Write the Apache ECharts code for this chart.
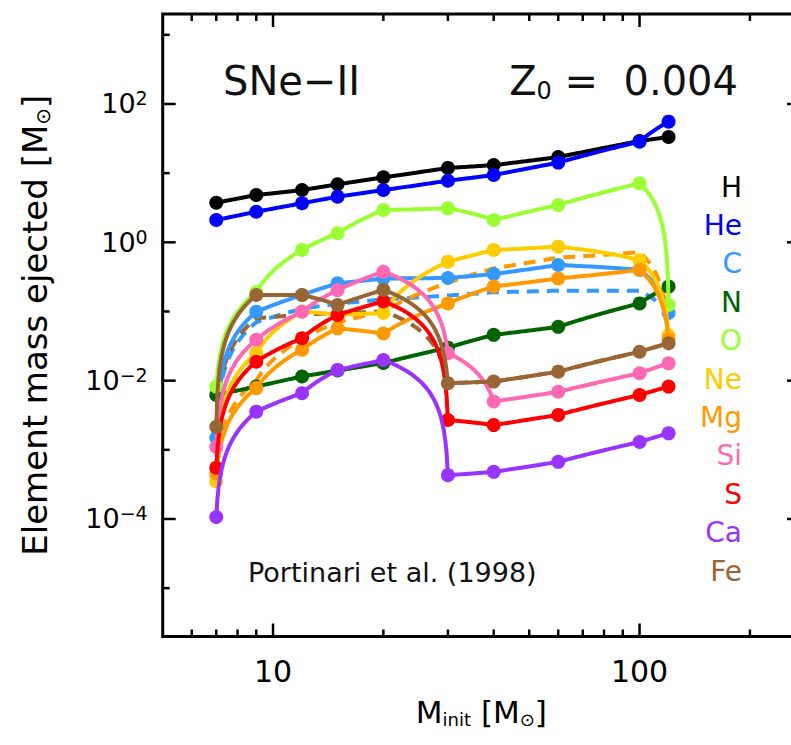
<!DOCTYPE html>
<html><head><meta charset="utf-8">
<script src="https://cdn.jsdelivr.net/npm/echarts@6/dist/echarts.min.js"></script>
<style>html,body{margin:0;padding:0;background:#fff}#c{width:791px;height:745px}</style>
</head><body><div id="c"></div>
<script>
// ---- data ----
const masses = [7, 9, 12, 15, 20, 30, 40, 60, 100, 120];
const yieldH  = [3.74, 4.83, 5.70, 6.90, 8.71, 11.9, 13.1, 17.1, 29.2, 33.3];
const yieldHe = [2.10, 2.77, 3.67, 4.57, 5.71, 7.78, 9.40, 14.2, 28.5, 55.5];
const yieldC  = [1.5e-3, 0.099, 0.173, 0.255, 0.30, 0.305, 0.348, 0.47, 0.40, 0.095];
const yieldN  = [6.2e-3, 8.2e-3, 0.0115, 0.014, 0.018, 0.030, 0.046, 0.060, 0.131, 0.229];
const yieldO  = [8.2e-3, 0.19, 0.775, 1.35, 2.93, 3.10, 2.10, 3.47, 7.13, 0.124];
const yieldNe = [3.5e-4, 0.025, 0.10, 0.09, 0.095, 0.525, 0.775, 0.865, 0.55, 0.045];
const yieldMg = [4.5e-4, 7.8e-3, 0.028, 0.057, 0.048, 0.131, 0.23, 0.30, 0.40, 0.040];
const yieldSi = [1.1e-3, 0.039, 0.099, 0.204, 0.376, 0.025, 5.0e-3, 6.9e-3, 0.0128, 0.0178];
const yieldS  = [5.5e-4, 0.0188, 0.041, 0.089, 0.14, 2.7e-3, 2.28e-3, 3.2e-3, 6.2e-3, 8.2e-3];
const yieldCa = [1.07e-4, 3.56e-3, 6.6e-3, 0.0143, 0.0199, 4.3e-4, 4.8e-4, 6.7e-4, 1.3e-3, 1.73e-3];
const yieldFe = [2.16e-3, 0.173, 0.173, 0.124, 0.205, 9.2e-3, 9.7e-3, 0.0135, 0.0262, 0.0347];
// dashed (alternative) curves
const dashC  = [1.5e-3, 0.07, 0.11, 0.13, 0.15, 0.17, 0.19, 0.20, 0.20, 0.095];
const dashMg = [5.0e-4, 0.010, 0.040, 0.070, 0.10, 0.26, 0.42, 0.60, 0.72, 0.045];
const dashFe = [2.0e-3, 0.080, 0.090, 0.095, 0.10, 9.2e-3, 9.7e-3, 0.0135, 0.0262, 0.0347];

const elementNames = ['H', 'He', 'C', 'N', 'O', 'Ne', 'Mg', 'Si', 'S', 'Ca', 'Fe'];
const xMajorTicks = [10, 100];
const xMinorTicks = [6, 7, 8, 9, 20, 30, 40, 50, 60, 70, 80, 90, 200];
const yMajorTicks = [1e-4, 1e-2, 1, 1e2];
const yMinorTicks = [1e-5, 1e-3, 1e-1, 1e1, 1e3];
const xLabelValues = [10, 100];
const yLabelExponents = [-4, -2, 0, 2];

// ---- styles ----
const FONT = 'DejaVu Sans';
const colors = {
  H: '#000000', He: '#0000ff', C: '#3399ff', N: '#006400', O: '#99ff33', Ne: '#ffcc00',
  Mg: '#ff9900', Si: '#ff69b4', S: '#ff0000', Ca: '#9933ff', Fe: '#996633'
};
const solidData = {H: yieldH, He: yieldHe, C: yieldC, N: yieldN, O: yieldO, Ne: yieldNe,
  Mg: yieldMg, Si: yieldSi, S: yieldS, Ca: yieldCa, Fe: yieldFe};

function curveSeries(name, values, color, dashed, dots, z) {
  return {
    type: 'custom', name: name, coordinateSystem: 'cartesian2d', z: z, clip: false,
    data: masses.map((m, i) => [m, values[i]]),
    renderItem: function (params, api) {
      const i = params.dataIndex;
      const children = [];
      if (i === 0) {
        const pts = [];
        for (let s = 0; s < masses.length - 1; s++) {
          const x0 = masses[s], x1 = masses[s + 1], y0 = values[s], y1 = values[s + 1];
          const n = 40;
          for (let k = (s === 0 ? 0 : 1); k <= n; k++) {
            const t = k / n;
            pts.push(api.coord([x0 + (x1 - x0) * t, y0 + (y1 - y0) * t]));
          }
        }
        children.push({type: 'polyline', shape: {points: pts},
          style: {stroke: color, lineWidth: 4, fill: null, lineDash: dashed ? [12, 8] : null, lineJoin: 'round'}});
      }
      if (dots) {
        const c = api.coord([api.value(0), api.value(1)]);
        children.push({type: 'circle', shape: {cx: c[0], cy: c[1], r: 7}, style: {fill: color}});
      }
      return {type: 'group', children: children};
    }
  };
}

function tickSeries() {
  return {
    type: 'custom', coordinateSystem: 'cartesian2d', z: 50, clip: false, silent: true,
    data: [[10, 1]],
    renderItem: function (params, api) {
      const cs = params.coordSys;
      const top = cs.y, bottom = cs.y + cs.height, left = cs.x, right = cs.x + cs.width;
      const ch = [];
      const st = {stroke: '#000', lineWidth: 2.5};
      xMajorTicks.concat(xMinorTicks).forEach(v => {
        const len = xMajorTicks.includes(v) ? 13 : 7;
        const px = api.coord([v, 1])[0];
        ch.push({type: 'line', shape: {x1: px, y1: bottom, x2: px, y2: bottom - len}, style: st});
        ch.push({type: 'line', shape: {x1: px, y1: top, x2: px, y2: top + len}, style: st});
      });
      yMajorTicks.concat(yMinorTicks).forEach(v => {
        const len = yMajorTicks.includes(v) ? 13 : 7;
        const py = api.coord([10, v])[1];
        ch.push({type: 'line', shape: {x1: left, y1: py, x2: left + len, y2: py}, style: st});
        ch.push({type: 'line', shape: {x1: right, y1: py, x2: right - len, y2: py}, style: st});
      });
      return {type: 'group', children: ch};
    }
  };
}

const series = [];
series.push(curveSeries('C dashed', dashC, colors.C, true, false, 2));
series.push(curveSeries('Mg dashed', dashMg, colors.Mg, true, false, 2));
series.push(curveSeries('Fe dashed', dashFe, colors.Fe, true, false, 2));
elementNames.forEach((el, k) => series.push(curveSeries(el, solidData[el], colors[el], false, true, 3 + k)));
series.push(tickSeries());

const legendTexts = elementNames.map((el, k) => ({
  type: 'text', x: 742, y: 187 + k * 38.4,
  style: {text: el, fill: colors[el], font: '28px "' + FONT + '"', align: 'right', verticalAlign: 'middle'}
}));

const chart = echarts.init(document.getElementById('c'), null, {renderer: 'svg'});
chart.setOption({
  animation: false,
  backgroundColor: '#fff',
  grid: {left: 162.7, top: 14, width: 637.3, height: 622.5, show: true, borderColor: '#000', borderWidth: 3,
    containLabel: false, outerBoundsMode: 'none'},
  xAxis: {
    type: 'log', logBase: 10, min: 5, max: 274,
    axisLine: {show: false}, axisTick: {show: false}, splitLine: {show: false}, minorTick: {show: false},
    axisLabel: {
      color: '#000', fontFamily: FONT, fontSize: 30, margin: 20, showMinLabel: true, showMaxLabel: true,
      formatter: function (v) {
        const e = Math.log10(v), r = Math.round(e);
        const val = Math.pow(10, r);
        return (Math.abs(e - r) < 1e-6 && xLabelValues.includes(val)) ? String(val) : '';
      }
    },
    name: '{m|M}{s|init}{m| [M}{s|⊙}{m|]}',
    nameLocation: 'middle', nameGap: 58,
    nameTextStyle: {
      rich: {
        m: {fontFamily: FONT, fontSize: 31, color: '#000', lineHeight: 34},
        s: {fontFamily: FONT, fontSize: 18, color: '#000', lineHeight: 12, verticalAlign: 'bottom'}
      }
    }
  },
  yAxis: {
    type: 'log', logBase: 10, min: 2e-6, max: 2000,
    axisLine: {show: false}, axisTick: {show: false}, splitLine: {show: false}, minorTick: {show: false},
    axisLabel: {
      margin: 15, showMinLabel: true, showMaxLabel: true,
      formatter: function (v) {
        const e = Math.log10(v), r = Math.round(e);
        if (Math.abs(e - r) > 1e-6 || !yLabelExponents.includes(r)) return '';
        return '{b|10}{sup|' + (r < 0 ? '\u2212' + (-r) : r) + '}';
      },
      rich: {
        b: {fontFamily: FONT, fontSize: 27, color: '#000', lineHeight: 30},
        sup: {fontFamily: FONT, fontSize: 19, color: '#000', lineHeight: 19, verticalAlign: 'top'}
      }
    },
    name: '{t|Element mass ejected [M}{s|⊙}{t|]}',
    nameLocation: 'middle', nameGap: 110,
    nameTextStyle: {
      rich: {
        t: {fontFamily: FONT, fontSize: 34, color: '#000', lineHeight: 36},
        s: {fontFamily: FONT, fontSize: 20, color: '#000', lineHeight: 14, verticalAlign: 'bottom'}
      }
    }
  },
  graphic: [
    {type: 'text', x: 223, y: 81, style: {text: 'SNe\u2212II', fill: '#111', font: '40px "' + FONT + '"', align: 'left', verticalAlign: 'middle'}},
    {type: 'text', x: 738, y: 81, style: {
      text: '{m|Z}{s|0}{m| =  0.004}', align: 'right', verticalAlign: 'middle',
      rich: {
        m: {fontFamily: FONT, fontSize: 40, fill: '#111', lineHeight: 44},
        s: {fontFamily: FONT, fontSize: 24, fill: '#111', lineHeight: 18, verticalAlign: 'bottom'}
      }
    }},
    {type: 'text', x: 248, y: 572, style: {text: 'Portinari et al. (1998)', fill: '#111', font: '27px "' + FONT + '"', align: 'left', verticalAlign: 'middle'}}
  ].concat(legendTexts),
  series: series
});
</script>
</body></html>
